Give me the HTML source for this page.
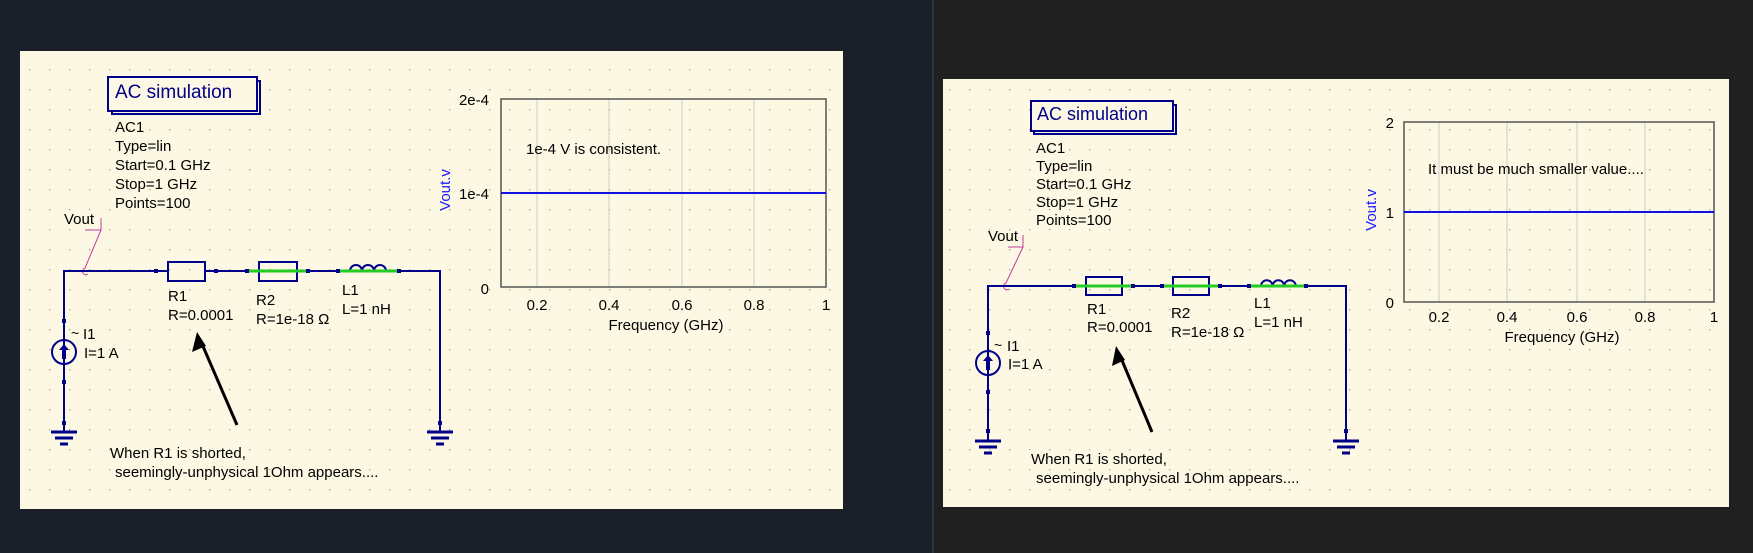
<!DOCTYPE html>
<html><head><meta charset="utf-8"><style>
html,body{margin:0;padding:0;width:1753px;height:553px;overflow:hidden;background:#1b1f29}
svg{display:block}
text{font-family:"Liberation Sans",sans-serif;font-size:15px;fill:#000}
.blue{fill:#00008a}
</style></head><body>
<svg width="1753" height="553" viewBox="0 0 1753 553" xmlns="http://www.w3.org/2000/svg">
<defs>
<pattern id="dots" width="20" height="20" patternUnits="userSpaceOnUse">
<rect x="9" y="9" width="1.3" height="1.3" fill="#a8a490"/>
</pattern>
</defs>
<rect x="0" y="0" width="934" height="553" fill="#1b1f29"/>
<rect x="934" y="0" width="819" height="553" fill="#202020"/>
<rect x="932" y="0" width="2" height="553" fill="#2e3440"/>

<!-- LEFT PANEL -->
<rect x="20" y="51" width="823" height="458" fill="#fcf8e3"/>
<rect x="20" y="51" width="823" height="458" fill="url(#dots)"/>
<g>
<rect x="112" y="81" width="148" height="33" fill="none" stroke="#00008a" stroke-width="2"/>
<rect x="108" y="77" width="149" height="34" fill="#fcf8e3" stroke="#00008a" stroke-width="2"/>
<text x="115" y="98" class="blue" style="font-size:19px">AC simulation</text>
<text x="115" y="132">AC1</text>
<text x="115" y="151">Type=lin</text>
<text x="115" y="170">Start=0.1 GHz</text>
<text x="115" y="189">Stop=1 GHz</text>
<text x="115" y="208">Points=100</text>
<text x="64" y="224">Vout</text>
<polyline points="85,230 101,230 101,218" fill="none" stroke="#c040a0" stroke-width="1"/>
<path d="M101,230 L85,268 q-4,2 -2,5 q2,3 5,1" fill="none" stroke="#c040a0" stroke-width="1"/>
<g stroke="#00008a" stroke-width="2" fill="none">
<polyline points="64,432 64,271 168,271"/>
<line x1="205" y1="271" x2="259" y2="271"/>
<line x1="297" y1="271" x2="338" y2="271"/>
<polyline points="398,271 440,271 440,432"/>
<rect x="168" y="262" width="37" height="19"/>
<rect x="259" y="262" width="38" height="19"/>
<path d="M350,271 a6,6 0 0 1 12,0 a6,6 0 0 1 12,0 a6,6 0 0 1 12,0"/>
<line x1="338" y1="271" x2="350" y2="271"/><line x1="386" y1="271" x2="398" y2="271"/>
<circle cx="64" cy="352" r="12"/>
<line x1="51" y1="432" x2="77" y2="432" stroke-width="3"/>
<line x1="55" y1="438" x2="73" y2="438" stroke-width="3"/>
<line x1="60" y1="444" x2="68" y2="444" stroke-width="3"/>
<line x1="427" y1="432" x2="453" y2="432" stroke-width="3"/>
<line x1="431" y1="438" x2="449" y2="438" stroke-width="3"/>
<line x1="436" y1="444" x2="444" y2="444" stroke-width="3"/>
</g>
<line x1="247" y1="271" x2="308" y2="271" stroke="#22cc22" stroke-width="3"/>
<line x1="338" y1="271" x2="398" y2="271" stroke="#22cc22" stroke-width="3"/>
<g fill="#00008a">
<rect x="154" y="269" width="4" height="4"/><rect x="214" y="269" width="4" height="4"/>
<rect x="245" y="269" width="4" height="4"/><rect x="306" y="269" width="4" height="4"/>
<rect x="336" y="269" width="4" height="4"/><rect x="397" y="269" width="4" height="4"/>
<rect x="62" y="319" width="4" height="4"/><rect x="62" y="380" width="4" height="4"/>
<rect x="62" y="421" width="4" height="4"/><rect x="438" y="421" width="4" height="4"/>
<path d="M64,344 l-5,6 h3 v9 h4 v-9 h3 z"/>
</g>
<text x="71" y="338" style="font-size:14px">~</text>
<text x="83" y="339">I1</text>
<text x="84" y="358">I=1 A</text>
<text x="168" y="301">R1</text>
<text x="168" y="320">R=0.0001</text>
<text x="256" y="305">R2</text>
<text x="256" y="324">R=1e-18 Ω</text>
<text x="342" y="295">L1</text>
<text x="342" y="314">L=1 nH</text>
<line x1="237" y1="425" x2="202" y2="344" stroke="#000" stroke-width="3"/>
<path d="M197,332 l-5,20 l14,-6 z" fill="#000"/>
<text x="110" y="458">When R1 is shorted,</text>
<text x="115" y="477">seemingly-unphysical 1Ohm appears....</text>
<g stroke="#ccc" stroke-width="1">
<line x1="537" y1="99" x2="537" y2="287"/><line x1="609" y1="99" x2="609" y2="287"/>
<line x1="682" y1="99" x2="682" y2="287"/><line x1="754" y1="99" x2="754" y2="287"/>
</g>
<rect x="501" y="99" width="325" height="188" fill="none" stroke="#555" stroke-width="1.5"/>
<line x1="501" y1="193" x2="826" y2="193" stroke="#1010e0" stroke-width="2"/>
<text x="489" y="105" text-anchor="end">2e-4</text>
<text x="489" y="199" text-anchor="end">1e-4</text>
<text x="489" y="294" text-anchor="end">0</text>
<text x="537" y="310" text-anchor="middle">0.2</text>
<text x="609" y="310" text-anchor="middle">0.4</text>
<text x="682" y="310" text-anchor="middle">0.6</text>
<text x="754" y="310" text-anchor="middle">0.8</text>
<text x="826" y="310" text-anchor="middle">1</text>
<text x="666" y="330" text-anchor="middle">Frequency (GHz)</text>
<text transform="translate(450,190) rotate(-90)" text-anchor="middle" style="fill:#1a1aff">Vout.v</text>
<text x="526" y="154">1e-4 V is consistent.</text>
</g>

<!-- RIGHT PANEL -->
<rect x="943" y="79" width="786" height="428" fill="#fcf8e3"/>
<rect x="943" y="79" width="786" height="428" fill="url(#dots)"/>
<g>
<rect x="1034" y="105" width="142" height="29" fill="none" stroke="#00008a" stroke-width="2"/>
<rect x="1031" y="101" width="142" height="30" fill="#fcf8e3" stroke="#00008a" stroke-width="2"/>
<text x="1037" y="120" class="blue" style="font-size:18px">AC simulation</text>
<text x="1036" y="153">AC1</text>
<text x="1036" y="171">Type=lin</text>
<text x="1036" y="189">Start=0.1 GHz</text>
<text x="1036" y="207">Stop=1 GHz</text>
<text x="1036" y="225">Points=100</text>
<text x="988" y="241">Vout</text>
<polyline points="1008,247 1023,247 1023,235" fill="none" stroke="#c040a0" stroke-width="1"/>
<path d="M1023,247 L1006,283 q-4,2 -2,5 q2,3 5,1" fill="none" stroke="#c040a0" stroke-width="1"/>
<g stroke="#00008a" stroke-width="2" fill="none">
<polyline points="988,441 988,286 1086,286"/>
<line x1="1122" y1="286" x2="1173" y2="286"/>
<line x1="1209" y1="286" x2="1261" y2="286"/>
<polyline points="1296,286 1346,286 1346,441"/>
<rect x="1086" y="277" width="36" height="18"/>
<rect x="1173" y="277" width="36" height="18"/>
<path d="M1261,286 a5.8,5.8 0 0 1 11.6,0 a5.8,5.8 0 0 1 11.6,0 a5.8,5.8 0 0 1 11.6,0"/>
<circle cx="988" cy="363" r="12"/>
<line x1="975" y1="441" x2="1001" y2="441" stroke-width="3"/>
<line x1="979" y1="447" x2="997" y2="447" stroke-width="3"/>
<line x1="984" y1="453" x2="992" y2="453" stroke-width="3"/>
<line x1="1333" y1="441" x2="1359" y2="441" stroke-width="3"/>
<line x1="1337" y1="447" x2="1355" y2="447" stroke-width="3"/>
<line x1="1342" y1="453" x2="1350" y2="453" stroke-width="3"/>
</g>
<line x1="1074" y1="286" x2="1133" y2="286" stroke="#22cc22" stroke-width="3"/>
<line x1="1162" y1="286" x2="1220" y2="286" stroke="#22cc22" stroke-width="3"/>
<line x1="1249" y1="286" x2="1306" y2="286" stroke="#22cc22" stroke-width="3"/>
<g fill="#00008a">
<rect x="1072" y="284" width="4" height="4"/><rect x="1131" y="284" width="4" height="4"/>
<rect x="1160" y="284" width="4" height="4"/><rect x="1218" y="284" width="4" height="4"/>
<rect x="1247" y="284" width="4" height="4"/><rect x="1304" y="284" width="4" height="4"/>
<rect x="986" y="331" width="4" height="4"/><rect x="986" y="390" width="4" height="4"/>
<rect x="986" y="429" width="4" height="4"/><rect x="1344" y="429" width="4" height="4"/>
<path d="M988,355 l-5,6 h3 v9 h4 v-9 h3 z"/>
</g>
<text x="994" y="350" style="font-size:14px">~</text>
<text x="1007" y="351">I1</text>
<text x="1008" y="369">I=1 A</text>
<text x="1087" y="314">R1</text>
<text x="1087" y="332">R=0.0001</text>
<text x="1171" y="318">R2</text>
<text x="1171" y="337">R=1e-18 Ω</text>
<text x="1254" y="308">L1</text>
<text x="1254" y="327">L=1 nH</text>
<line x1="1152" y1="432" x2="1121" y2="358" stroke="#000" stroke-width="3"/>
<path d="M1116,346 l-4,20 l13,-6 z" fill="#000"/>
<text x="1031" y="464">When R1 is shorted,</text>
<text x="1036" y="483">seemingly-unphysical 1Ohm appears....</text>
<g stroke="#ccc" stroke-width="1">
<line x1="1439" y1="122" x2="1439" y2="302"/><line x1="1507" y1="122" x2="1507" y2="302"/>
<line x1="1577" y1="122" x2="1577" y2="302"/><line x1="1645" y1="122" x2="1645" y2="302"/>
</g>
<rect x="1404" y="122" width="310" height="180" fill="none" stroke="#555" stroke-width="1.5"/>
<line x1="1404" y1="212" x2="1714" y2="212" stroke="#1010e0" stroke-width="2"/>
<text x="1394" y="128" text-anchor="end">2</text>
<text x="1394" y="218" text-anchor="end">1</text>
<text x="1394" y="308" text-anchor="end">0</text>
<text x="1439" y="322" text-anchor="middle">0.2</text>
<text x="1507" y="322" text-anchor="middle">0.4</text>
<text x="1577" y="322" text-anchor="middle">0.6</text>
<text x="1645" y="322" text-anchor="middle">0.8</text>
<text x="1714" y="322" text-anchor="middle">1</text>
<text x="1562" y="342" text-anchor="middle">Frequency (GHz)</text>
<text transform="translate(1376,210) rotate(-90)" text-anchor="middle" style="fill:#1a1aff">Vout.v</text>
<text x="1428" y="174">It must be much smaller value....</text>
</g>
</svg>
</body></html>
